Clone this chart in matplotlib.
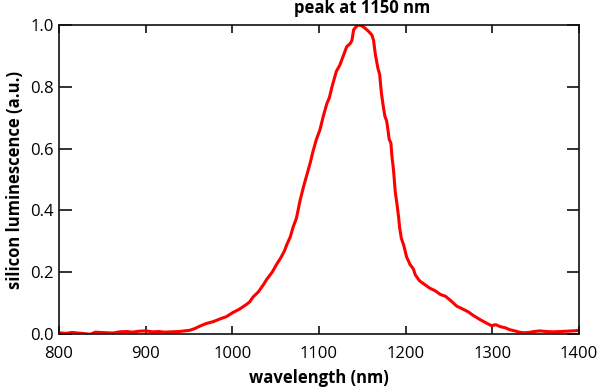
import matplotlib.pyplot as plt

# Спектр люминесценции кремния
wavelength = [800, 808, 815, 822, 830, 836, 842, 848, 855, 862, 870, 878, 885, 892,
              900, 908, 915, 922, 930, 938, 945, 951, 957, 963, 970, 978, 986,
              993, 1001, 1008, 1016, 1020, 1024, 1030, 1036, 1040, 1046, 1051,
              1056, 1060, 1063, 1067, 1070, 1074, 1078, 1082, 1086, 1090, 1093,
              1097, 1101, 1105, 1109, 1112, 1115, 1118, 1120, 1124, 1128, 1132,
              1136, 1138, 1140, 1143, 1145, 1149, 1153, 1157, 1161, 1163, 1165,
              1168, 1170, 1172, 1174, 1176, 1178, 1179, 1181, 1183, 1184, 1186,
              1188, 1190, 1192, 1193, 1195, 1198, 1201, 1205, 1209, 1211, 1216,
              1222, 1228, 1234, 1240, 1246, 1252, 1259, 1265, 1272, 1278, 1285,
              1292, 1299, 1304, 1309, 1315, 1320, 1326, 1331, 1336, 1342, 1348,
              1355, 1362, 1370, 1378, 1386, 1392, 1398]
luminescence = [0.004, 0.002, 0.005, 0.003, 0.001, -0.001, 0.006, 0.005, 0.004,
                0.003, 0.007, 0.008, 0.006, 0.009, 0.010, 0.007, 0.008, 0.006,
                0.007, 0.008, 0.010, 0.012, 0.018, 0.026, 0.034, 0.040, 0.049,
                0.056, 0.070, 0.080, 0.095, 0.104, 0.120, 0.136, 0.160, 0.178,
                0.200, 0.225, 0.247, 0.268, 0.290, 0.315, 0.345, 0.375, 0.430,
                0.475, 0.515, 0.555, 0.590, 0.630, 0.660, 0.705, 0.745, 0.765,
                0.800, 0.830, 0.850, 0.870, 0.900, 0.930, 0.940, 0.950, 0.985,
                0.995, 1.000, 0.998, 0.990, 0.980, 0.968, 0.950, 0.905, 0.860,
                0.840, 0.780, 0.740, 0.705, 0.690, 0.672, 0.630, 0.618, 0.580,
                0.530, 0.460, 0.420, 0.375, 0.345, 0.310, 0.285, 0.250, 0.225,
                0.210, 0.192, 0.172, 0.160, 0.148, 0.140, 0.128, 0.122, 0.108,
                0.090, 0.082, 0.072, 0.060, 0.048, 0.037, 0.027, 0.030, 0.024,
                0.020, 0.014, 0.010, 0.006, 0.004, 0.005, 0.008, 0.010, 0.008,
                0.007, 0.008, 0.009, 0.010, 0.011]

x_ticks = [800, 900, 1000, 1100, 1200, 1300, 1400]
y_ticks = [0.0, 0.2, 0.4, 0.6, 0.8, 1.0]
peak_wavelength = 1150

plt.rcParams["font.family"] = ["Open Sans", "DejaVu Sans"]

fig = plt.figure(figsize=(6, 3.89), dpi=100)
ax = fig.add_axes([0.0983, 0.1414, 0.8667, 0.7943])

ax.plot(wavelength, luminescence, color="#ff0000", linewidth=2.2)

ax.set_xlim(800, 1400)
ax.set_ylim(0.0, 1.0)
ax.set_xticks(x_ticks)
ax.set_yticks(y_ticks)
ax.set_yticklabels([f"{v:.1f}" for v in y_ticks])

for spine in ax.spines.values():
    spine.set_linewidth(1.2)
    spine.set_color("#111111")

ax.tick_params(axis="x", direction="in", length=6, width=1.2, color="#111111",
               top=True, labelsize=12, pad=9)
ax.tick_params(axis="y", direction="in", length=9, width=1.2, color="#111111",
               right=True, labelsize=12, pad=4)

ax.set_xlabel("wavelength (nm)", fontsize=12, fontweight="bold", labelpad=5)
ax.set_ylabel("silicon luminescence (a.u.)", fontsize=12, fontweight="bold", labelpad=4)

# Подпись над пиком
ax.annotate(f"peak at {peak_wavelength} nm", xy=(peak_wavelength, 1.0),
            xycoords=("data", "axes fraction"), xytext=(0, 6),
            textcoords="offset points", ha="center", va="bottom",
            fontsize=12, fontweight="bold")

fig.savefig("out.png", dpi=100)
plt.close(fig)
